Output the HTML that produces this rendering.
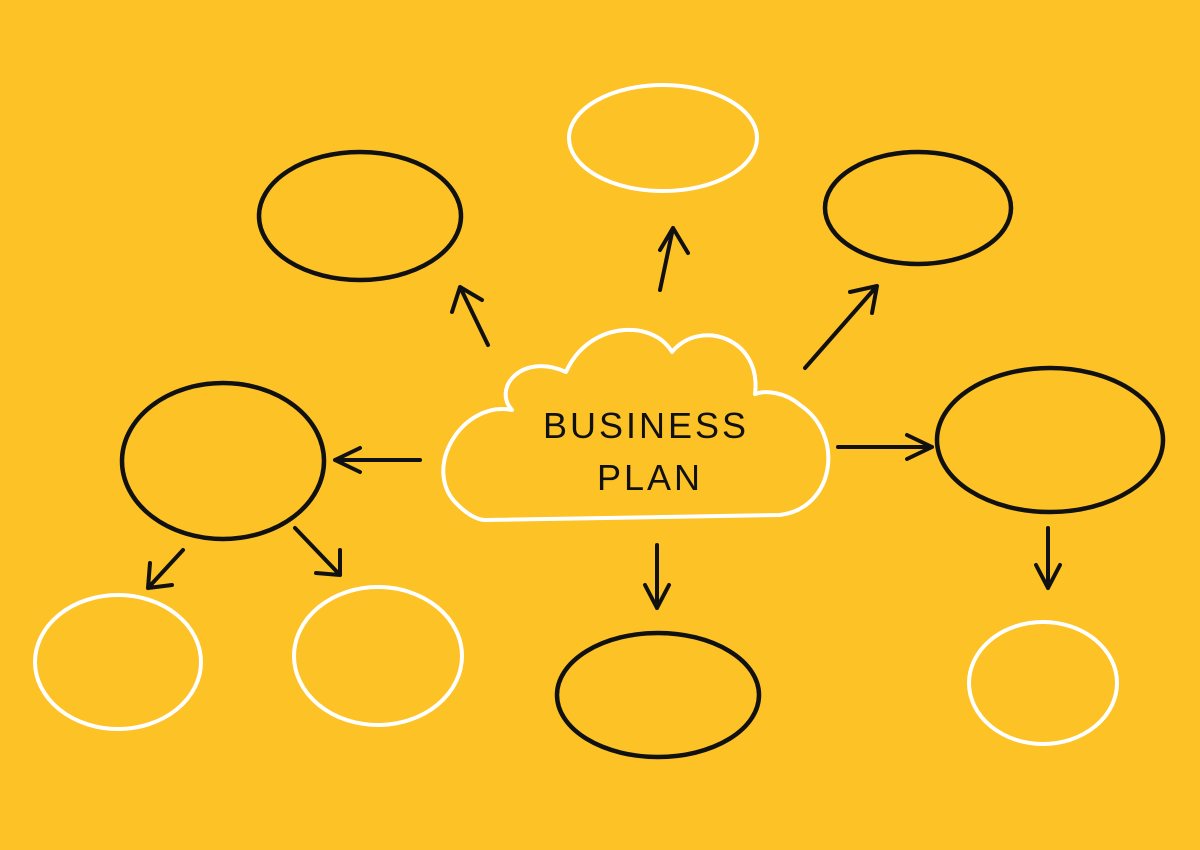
<!DOCTYPE html>
<html><head><meta charset="utf-8"><style>
html,body{margin:0;padding:0;background:#FCC226;}
svg{display:block}
</style></head><body>
<svg width="1200" height="850" viewBox="0 0 1200 850" xmlns="http://www.w3.org/2000/svg">
<rect width="1200" height="850" fill="#FCC226"/>
<g fill="none" stroke-linecap="round" stroke-linejoin="round">
<g stroke="#111" stroke-width="4.5">
<ellipse cx="360" cy="216" rx="101" ry="64"/>
<ellipse cx="918" cy="208" rx="93" ry="56"/>
<ellipse cx="223" cy="461" rx="101" ry="78"/>
<ellipse cx="1050" cy="440" rx="113" ry="72"/>
<ellipse cx="658" cy="695" rx="101" ry="62"/>
</g>
<g stroke="#fff" stroke-width="4">
<ellipse cx="663" cy="138" rx="94" ry="53"/>
<ellipse cx="118" cy="662" rx="83" ry="67"/>
<ellipse cx="378" cy="656" rx="84" ry="69"/>
<ellipse cx="1043" cy="683" rx="74" ry="61"/>
<path d="M485,520 L780,515 C835,508 845,435 800,405 C785,392 765,390 755,394 C762,338 700,318 672,352 C652,318 588,322 566,372 C522,352 492,388 512,410 C462,400 420,470 458,505 C468,515 478,520 485,520 Z"/>
</g>
<g stroke="#111" stroke-width="4">
<path d="M488,345 L460,287 M452,312 L460,287 L482,300"/>
<path d="M660,290 L673,228 M660,250 L673,228 L688,253"/>
<path d="M805,368 L877,286 M850,292 L877,286 L872,313"/>
<path d="M420,460 L335,460 M360,448 L335,460 L360,472"/>
<path d="M838,447 L932,447 M907,435 L932,447 L907,459"/>
<path d="M657,545 L657,608 M645,585 L657,608 L669,585"/>
<path d="M1048,528 L1048,588 M1036,565 L1048,588 L1060,565"/>
<path d="M183,550 L148,588 M150,563 L148,588 L172,585"/>
<path d="M295,528 L340,575 M340,550 L340,575 L316,573"/>
</g>
</g>
<g font-family="Liberation Sans, sans-serif" font-size="36" fill="#111" text-anchor="middle" letter-spacing="3">
<text x="646" y="438">BUSINESS</text>
<text x="650" y="490">PLAN</text>
</g>
</svg>
</body></html>
